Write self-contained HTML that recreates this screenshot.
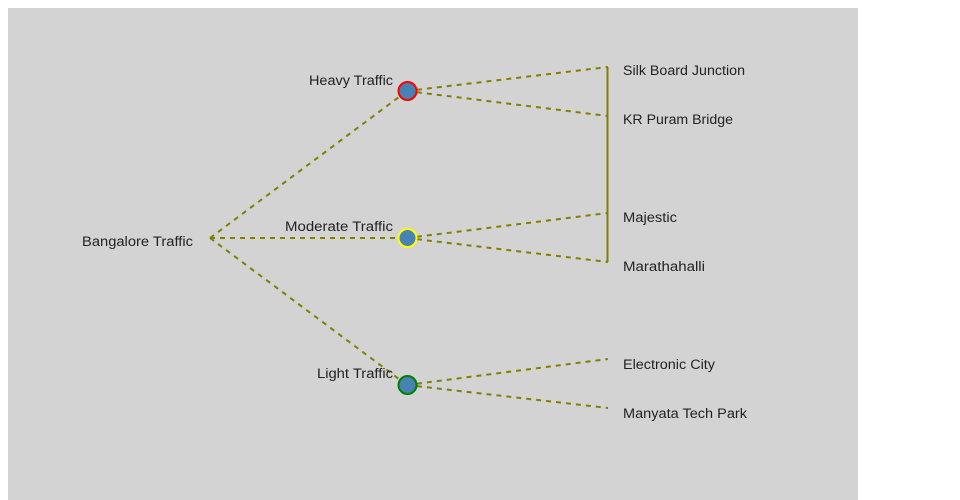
<!DOCTYPE html>
<html>
<head>
<meta charset="utf-8">
<style>
  html, body { margin: 0; padding: 0; background: #ffffff; }
  body { width: 960px; height: 500px; overflow: hidden; }
  svg { display: block; }
  text { font-family: "Liberation Sans", "DejaVu Sans", sans-serif; font-size: 13.5px; fill: #222222; }
</style>
</head>
<body>
<svg width="960" height="500" viewBox="0 0 960 500" xmlns="http://www.w3.org/2000/svg">
  <rect x="8" y="8" width="850" height="492" fill="#d3d3d3"/>

  <!-- vertical solid bracket -->
  <line x1="607.5" y1="67" x2="607.5" y2="262" stroke="#808000" stroke-width="2"/>

  <g stroke="#808000" stroke-width="2" stroke-dasharray="5,5" fill="none">
    <!-- root to categories -->
    <line x1="210" y1="238" x2="407" y2="91"/>
    <line x1="210" y1="238" x2="407" y2="238"/>
    <line x1="210" y1="238" x2="407" y2="385"/>
    <!-- heavy -->
    <line x1="407" y1="91" x2="608" y2="67"/>
    <line x1="407" y1="91" x2="608" y2="116"/>
    <!-- moderate -->
    <line x1="407" y1="238" x2="608" y2="213"/>
    <line x1="407" y1="238" x2="608" y2="262"/>
    <!-- light -->
    <line x1="407" y1="385" x2="608" y2="359"/>
    <line x1="407" y1="385" x2="608" y2="408"/>
  </g>

  <circle cx="407.5" cy="91" r="9" fill="#4682b4" stroke="#ff0000" stroke-width="2"/>
  <circle cx="407.5" cy="238" r="9" fill="#4682b4" stroke="#ffff00" stroke-width="2"/>
  <circle cx="407.5" cy="385" r="9" fill="#4682b4" stroke="#008000" stroke-width="2"/>

  <text x="193" y="246" text-anchor="end" textLength="111" lengthAdjust="spacingAndGlyphs">Bangalore Traffic</text>
  <text x="393" y="85" text-anchor="end" textLength="84" lengthAdjust="spacingAndGlyphs">Heavy Traffic</text>
  <text x="393" y="231" text-anchor="end" textLength="108" lengthAdjust="spacingAndGlyphs">Moderate Traffic</text>
  <text x="393" y="378" text-anchor="end" textLength="76" lengthAdjust="spacingAndGlyphs">Light Traffic</text>

  <text x="623" y="75" textLength="122" lengthAdjust="spacingAndGlyphs">Silk Board Junction</text>
  <text x="623" y="124" textLength="110" lengthAdjust="spacingAndGlyphs">KR Puram Bridge</text>
  <text x="623" y="222" textLength="54" lengthAdjust="spacingAndGlyphs">Majestic</text>
  <text x="623" y="271" textLength="82" lengthAdjust="spacingAndGlyphs">Marathahalli</text>
  <text x="623" y="369" textLength="92" lengthAdjust="spacingAndGlyphs">Electronic City</text>
  <text x="623" y="418" textLength="124" lengthAdjust="spacingAndGlyphs">Manyata Tech Park</text>
</svg>
</body>
</html>
